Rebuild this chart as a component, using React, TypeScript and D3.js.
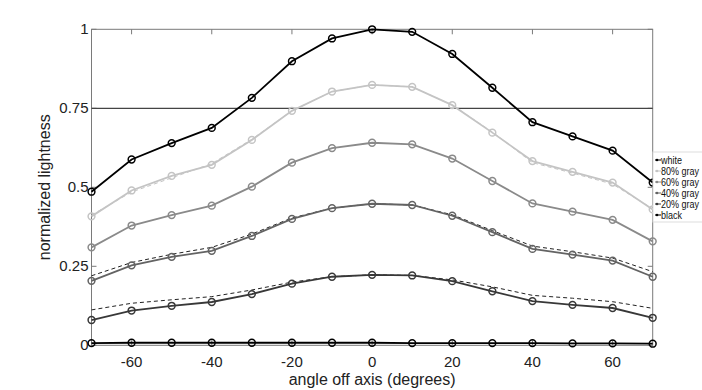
import React from "react";
import * as d3 from "d3";

const angles = [-70, -60, -50, -40, -30, -20, -10, 0, 10, 20, 30, 40, 50, 60, 70];
const seriesNames = ["white", "80% gray", "60% gray", "40% gray", "20% gray", "black"];
const seriesColors = ["#000000", "#c4c4c4", "#8a8a8a", "#636363", "#383838", "#000000"];
const whiteVals = [0.486, 0.588, 0.64, 0.688, 0.783, 0.899, 0.971, 1.0, 0.992, 0.922, 0.815, 0.706, 0.661, 0.616, 0.515];
const gray80Vals = [0.408, 0.49, 0.536, 0.571, 0.65, 0.742, 0.803, 0.824, 0.818, 0.76, 0.673, 0.583, 0.549, 0.515, 0.43];
const gray60Vals = [0.31, 0.379, 0.412, 0.442, 0.502, 0.578, 0.624, 0.641, 0.636, 0.591, 0.52, 0.449, 0.423, 0.397, 0.329];
const gray40Vals = [0.204, 0.253, 0.28, 0.299, 0.346, 0.4, 0.434, 0.448, 0.444, 0.41, 0.358, 0.305, 0.287, 0.268, 0.217];
const gray20Vals = [0.08, 0.11, 0.125, 0.137, 0.162, 0.195, 0.217, 0.223, 0.221, 0.203, 0.171, 0.14, 0.128, 0.118, 0.087];
const blackVals = [0.007, 0.008, 0.008, 0.008, 0.008, 0.008, 0.008, 0.008, 0.007, 0.007, 0.007, 0.007, 0.006, 0.006, 0.005];
const seriesVals = [whiteVals, gray80Vals, gray60Vals, gray40Vals, gray20Vals, blackVals];

// dashed reference curves
const dash80Vals = [0.412, 0.485, 0.53, 0.575, 0.652, 0.742, 0.803, 0.824, 0.818, 0.76, 0.675, 0.578, 0.545, 0.51, 0.432];
const dash40Vals = [0.22, 0.262, 0.288, 0.31, 0.352, 0.403, 0.434, 0.448, 0.444, 0.413, 0.363, 0.314, 0.296, 0.276, 0.233];
const dash20Vals = [0.112, 0.133, 0.144, 0.154, 0.175, 0.2, 0.217, 0.223, 0.221, 0.207, 0.185, 0.158, 0.149, 0.138, 0.117];
const dashVals = [dash80Vals, dash40Vals, dash20Vals];
const dashColors = ["#c4c4c4", "#222222", "#222222"];

const xTicks = [-60, -40, -20, 0, 20, 40, 60];
const yTicks = [0, 0.25, 0.5, 0.75, 1];
const yTickLabels = ["0", "0.25", "0.5", "0.75", "1"];
const refLine = 0.75;

export default function App() {
  const W = 702, H = 390;
  const L = 91.5, R = 652.7, T = 29.3, B = 345.3;
  const x = d3.scaleLinear().domain([-70, 70]).range([L, R]);
  const y = d3.scaleLinear().domain([0, 1]).range([B, T]);
  const line = d3.line<number>().x((_, i) => x(angles[i])).y((v) => y(v));
  const font = "'Liberation Sans', Arial, sans-serif";
  const frame = "#7a7a7a";
  return (
    <svg width={W} height={H} style={{ position: "absolute", left: 0, top: 0 }} fontFamily={font}>
      <rect x={0} y={0} width={W} height={H} fill="#fff" />
      {/* frame */}
      <rect x={L} y={T} width={R - L} height={B - T} fill="none" stroke={frame} strokeWidth={1} />
      {xTicks.map((t) => (
        <g key={"xt" + t}>
          <line x1={x(t)} x2={x(t)} y1={B} y2={B - 5} stroke={frame} />
          <line x1={x(t)} x2={x(t)} y1={T} y2={T + 5} stroke={frame} />
          <text x={x(t)} y={B + 22} textAnchor="middle" fontSize={15} fill="#222">{t}</text>
        </g>
      ))}
      {yTicks.map((t, i) => (
        <g key={"yt" + t}>
          <line x1={L} x2={L + 5} y1={y(t)} y2={y(t)} stroke={frame} />
          <line x1={R} x2={R - 5} y1={y(t)} y2={y(t)} stroke={frame} />
          <text x={L - 3} y={y(t) + 5} textAnchor="end" fontSize={15} fill="#222">{yTickLabels[i]}</text>
        </g>
      ))}
      <line x1={L} x2={R} y1={y(refLine)} y2={y(refLine)} stroke="#444" strokeWidth={1.3} />
      {/* dashed curves */}
      {dashVals.map((vals, k) => (
        <path key={"d" + k} d={line(vals) || ""} fill="none" stroke={dashColors[k]} strokeWidth={1} strokeDasharray="4,3" />
      ))}
      {/* series */}
      {seriesVals.map((vals, k) => (
        <g key={"s" + k}>
          <path d={line(vals) || ""} fill="none" stroke={seriesColors[k]} strokeWidth={1.8} />
          {vals.map((v, i) => (
            <circle key={i} cx={x(angles[i])} cy={y(v)} r={3.4} fill="none" stroke={seriesColors[k]} strokeWidth={1.5} />
          ))}
        </g>
      ))}
      {/* axis labels */}
      <text x={(L + R) / 2} y={B + 40} textAnchor="middle" fontSize={16} fill="#222">angle off axis (degrees)</text>
      <text transform={`translate(50,${(T + B) / 2}) rotate(-90)`} textAnchor="middle" fontSize={16} fill="#222">normalized lightness</text>
      {/* legend */}
      <g>
        <rect x={653} y={152} width={52} height={70} fill="#fff" stroke="#ddd" strokeWidth={1} />
        {seriesNames.map((n, k) => {
          const ly = 160 + k * 11;
          return (
            <g key={"l" + k}>
              <line x1={655} x2={661} y1={ly} y2={ly} stroke={seriesColors[k]} strokeWidth={1} />
              <circle cx={657} cy={ly} r={1.3} fill={seriesColors[k]} />
              <text transform={`translate(661,${ly + 3.5}) scale(0.86,1)`} fontSize={10.5} fill="#111">{n}</text>
            </g>
          );
        })}
      </g>
    </svg>
  );
}
